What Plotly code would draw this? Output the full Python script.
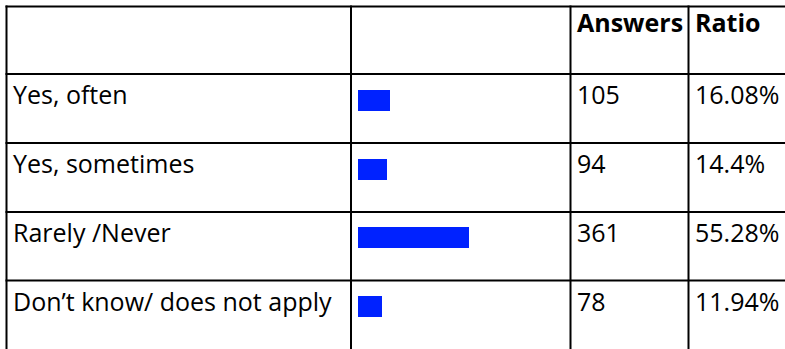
import plotly.graph_objects as go

categories = ["Yes, often", "Yes, sometimes", "Rarely /Never", "Don\u2019t know/ does not apply"]
answers = [105, 94, 361, 78]
ratios = [16.08, 14.4, 55.28, 11.94]
ratio_labels = ["16.08%", "14.4%", "55.28%", "11.94%"]
headers = ["", "", "Answers", "Ratio"]

W, H = 785, 349
FONT = "Open Sans"
FS = 25
BAR_COLOR = "rgb(0,34,255)"

# table geometry (pixels)
col_x = [6.5, 351, 570.5, 688.5, 800]
row_y = [6.5, 74, 143, 212, 280.5, 360]

def px(x):
    return x / W

def py(y):
    return 1 - y / H

fig = go.Figure()

# bars: x axis maps 0..100 % onto 200 px starting inside the bar column
bar_x0 = 358
fig.add_trace(go.Bar(
    y=list(range(len(categories))),
    x=ratios,
    orientation="h",
    marker=dict(color=BAR_COLOR, line=dict(width=0)),
    width=21 / 68.67,
    hoverinfo="skip",
    showlegend=False,
))

step = 68.67
c0 = 100.5
fig.update_xaxes(domain=[px(bar_x0), px(bar_x0 + 200)], range=[0, 100], visible=False, fixedrange=True)
fig.update_yaxes(domain=[0, 1], range=[(H - c0) / step, -c0 / step], visible=False, fixedrange=True)

shapes = []
line = dict(color="black", width=2)
for y in row_y[:-1]:
    shapes.append(dict(type="line", xref="paper", yref="paper", x0=px(col_x[0] - 1), x1=px(col_x[-1]), y0=py(y), y1=py(y), line=line))
for x in col_x[:-1]:
    shapes.append(dict(type="line", xref="paper", yref="paper", x0=px(x), x1=px(x), y0=py(row_y[0] - 1), y1=py(row_y[-1]), line=line))

annotations = []
# header
for i, h in enumerate(headers):
    if h:
        annotations.append(dict(text="<b>" + h + "</b>", xref="paper", yref="paper",
                                x=px(col_x[i] + 4), y=py(row_y[0] - 3), xanchor="left", yanchor="top",
                                showarrow=False, font=dict(family=FONT, size=FS, color="black")))
for r in range(len(categories)):
    top = row_y[r + 1]
    cells = [categories[r], None, str(answers[r]), ratio_labels[r]]
    for i, t in enumerate(cells):
        if t is None:
            continue
        annotations.append(dict(text=t, xref="paper", yref="paper",
                                x=px(col_x[i] + 4), y=py(top + 1), xanchor="left", yanchor="top",
                                showarrow=False, font=dict(family=FONT, size=FS, color="black")))

fig.update_layout(
    width=W, height=H,
    margin=dict(l=0, r=0, t=0, b=0),
    paper_bgcolor="white", plot_bgcolor="white",
    shapes=shapes, annotations=annotations,
    bargap=0,
)

fig.write_html("out.html", config={"displayModeBar": False},
               post_script="document.body.style.margin='0';document.body.style.overflow='hidden';")
